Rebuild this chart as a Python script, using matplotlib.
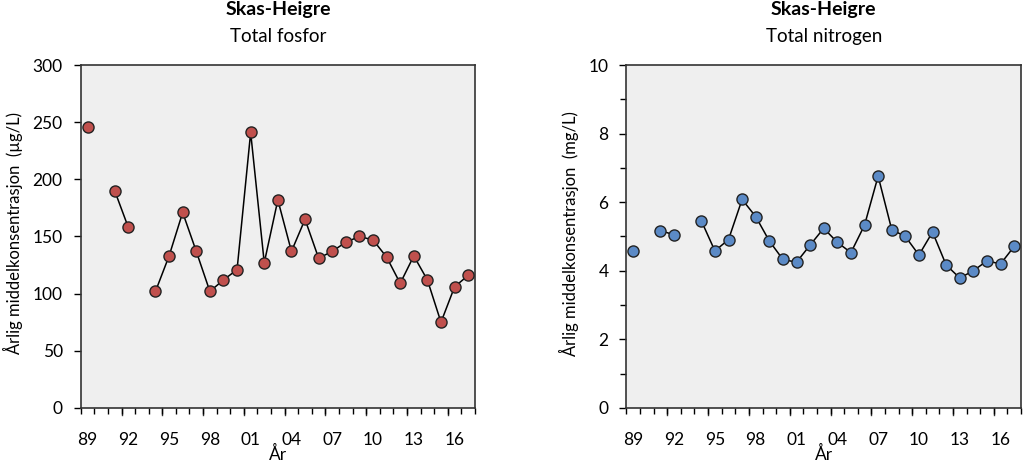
#!/usr/bin/env python3
import numpy as np
import matplotlib
matplotlib.use("Agg")
import matplotlib.pyplot as plt
from matplotlib.ticker import FixedLocator, MultipleLocator


plt.rcParams["font.family"] = ["Lato", "DejaVu Sans"]

YEARS = list(range(1989, 2018))
YEAR_LABELS = [f"{y % 100:02d}" for y in YEARS]

# Total fosfor (ug/L), NaN = no measurement that year
TOT_P = [246, np.nan, 190, 158, np.nan, 102, 133, 171, 137, 102,
         112, 121, 241, 127, 182, 137, 165, 131, 137, 145,
         150, 147, 132, 109, 133, 112, 75, 106, 116]

# Total nitrogen (mg/L)
TOT_N = [4.58, np.nan, 5.17, 5.05, np.nan, 5.46, 4.58, 4.91, 6.08, 5.58,
         4.87, 4.33, 4.25, 4.75, 5.24, 4.83, 4.53, 5.33, 6.76, 5.20,
         5.00, 4.46, 5.13, 4.17, 3.79, 4.00, 4.29, 4.20, 4.71]

COLORS = {
    "fosfor": "#c0504d",
    "nitrogen": "#5b8ac6",
    "bg": "#efefef",
}


def draw_panel(ax, values, color, ymax, ystep, yminor, ylabel, subtitle, ylab_x):
    x = np.arange(len(YEARS))
    ax.plot(x, values, color="black", linewidth=1.1, zorder=2)
    ax.plot(x, values, linestyle="none", marker="o", markersize=8,
            markerfacecolor=color, markeredgecolor="#222222",
            markeredgewidth=1.0, zorder=3)

    ax.set_facecolor(COLORS["bg"])
    ax.set_xlim(-0.5, len(YEARS) - 0.5)
    ax.set_ylim(0, ymax)

    # labels every third year, tick marks on category boundaries
    label_pos = x[::3]
    ax.set_xticks(label_pos)
    ax.set_xticklabels([YEAR_LABELS[i] for i in label_pos])
    ax.tick_params(axis="x", which="major", length=0, pad=17, labelsize=12.5)
    ax.xaxis.set_minor_locator(FixedLocator(np.arange(-0.5, len(YEARS), 1.0)))
    ax.tick_params(axis="x", which="minor", length=4, width=1, direction="out")
    for b in np.arange(2.5, len(YEARS), 3):
        ax.plot([b, b], [0, -0.02 * ymax], color="#333333", linewidth=1,
                clip_on=False, zorder=1)

    ax.yaxis.set_major_locator(MultipleLocator(ystep))
    if yminor:
        ax.yaxis.set_minor_locator(MultipleLocator(yminor))
        ax.tick_params(axis="y", which="minor", length=4, width=1)
    ax.tick_params(axis="y", which="major", length=5, width=1, labelsize=12.5, pad=8)

    for s in ax.spines.values():
        s.set_color("#333333")
        s.set_linewidth(1.2)

    ax.set_xlabel("År", fontsize=12.5, labelpad=-1)
    ax.set_ylabel(ylabel, fontsize=12)
    ax.yaxis.set_label_coords(ylab_x, 0.51)
    ax.text(0.5, 1.162, "Skas-Heigre", transform=ax.transAxes, ha="center",
            va="center", fontsize=14, fontweight="bold")
    ax.text(0.5, 1.082, subtitle, transform=ax.transAxes, ha="center",
            va="center", fontsize=13.5)


def main():
    fig = plt.figure(figsize=(10.23, 4.66), dpi=100)
    ax1 = fig.add_axes([0.0789, 0.1245, 0.3854, 0.736])
    ax2 = fig.add_axes([0.6124, 0.1245, 0.3856, 0.736])

    draw_panel(ax1, TOT_P, COLORS["fosfor"], 300, 50, None,
               "Årlig middelkonsentrasjon  (µg/L)", "Total fosfor", -0.146)
    draw_panel(ax2, TOT_N, COLORS["nitrogen"], 10, 2, 1,
               "Årlig middelkonsentrasjon  (mg/L)", "Total nitrogen", -0.120)

    fig.savefig("out.png", dpi=100)
    plt.close(fig)


if __name__ == "__main__":
    main()
